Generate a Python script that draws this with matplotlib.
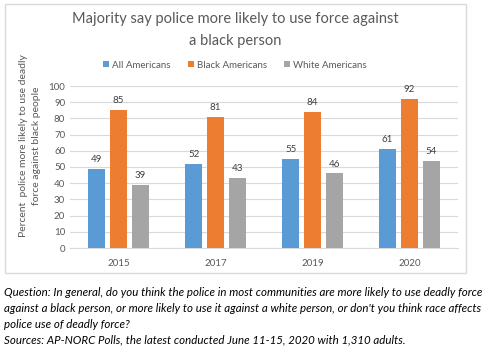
import matplotlib
matplotlib.use("Agg")
import matplotlib.pyplot as plt
import matplotlib.patches as pat
import numpy as np

plt.rcParams['font.family'] = ['Lato', 'DejaVu Sans']

years = ["2015", "2017", "2019", "2020"]
allAm = [49, 52, 55, 61]
blackAm = [85, 81, 84, 92]
whiteAm = [39, 43, 46, 54]
seriesNames = ["All Americans", "Black Americans", "White Americans"]
colors = ["#5b9bd5", "#ed7d31", "#a5a5a5"]

W, H = 488, 351
fig = plt.figure(figsize=(W / 100, H / 100), dpi=100)

# outer chart border
fig.patches.append(pat.Rectangle((5 / W, 1 - 273 / H), 461 / W, 269 / H,
                                 transform=fig.transFigure, fill=False,
                                 edgecolor="#d9d9d9", linewidth=1))

ax = fig.add_axes([70 / W, 1 - 248 / H, 388 / W, 162 / H])
x = np.arange(len(years))
bw = 0.18
gap = 0.045
for i, (vals, col, name) in enumerate(zip([allAm, blackAm, whiteAm], colors, seriesNames)):
    pos = x + (i - 1) * (bw + gap)
    bars = ax.bar(pos, vals, bw, color=col, label=name, zorder=3)
    for b, v in zip(bars, vals):
        ax.text(b.get_x() + b.get_width() / 2, v + 3, str(v), ha="center",
                va="bottom", fontsize=7, color="#404040")

ax.set_ylim(0, 100)
ax.set_yticks(range(0, 101, 10))
ax.set_xlim(-0.5, 3.5)
ax.set_xticks(x)
ax.set_xticklabels(years)
ax.tick_params(axis="both", length=0, labelsize=7, colors="#595959")
ax.tick_params(axis="x", pad=8)
ax.grid(axis="y", color="#d9d9d9", linewidth=0.8, zorder=0)
for s in ["top", "right", "left"]:
    ax.spines[s].set_visible(False)
ax.spines["bottom"].set_color("#d9d9d9")
ax.set_ylabel("Percent  police more likely to use deadly\nforce against black people",
              fontsize=7.5, color="#595959", linespacing=1.45, va="center")
ax.yaxis.set_label_coords(-0.103, 0.63)

fig.text(235 / W, 1 - 19 / H, "Majority say police more likely to use force against",
         ha="center", va="center", fontsize=10.5, color="#595959")
fig.text(235 / W, 1 - 41 / H, "a black person",
         ha="center", va="center", fontsize=10.5, color="#595959")

fig.legend(*ax.get_legend_handles_labels(), loc="center", ncol=3,
           bbox_to_anchor=(235 / W, 1 - 65 / H), frameon=False, fontsize=7,
           handlelength=0.6, handleheight=0.6, handletextpad=0.3,
           columnspacing=1.8, labelcolor="#595959")

notes = ["Question: In general, do you think the police in most communities are more likely to use deadly force",
         "against a black person, or more likely to use it against a white person, or don't you think race affects",
         "police use of deadly force?",
         "Sources: AP-NORC Polls, the latest conducted June 11-15, 2020 with 1,310 adults."]
for k, line in enumerate(notes):
    fig.text(4 / W, 1 - (292 + k * 16) / H, line, ha="left", va="center",
             fontsize=8.3, style="italic", color="black")

fig.savefig("out.png", dpi=100, facecolor="white")
